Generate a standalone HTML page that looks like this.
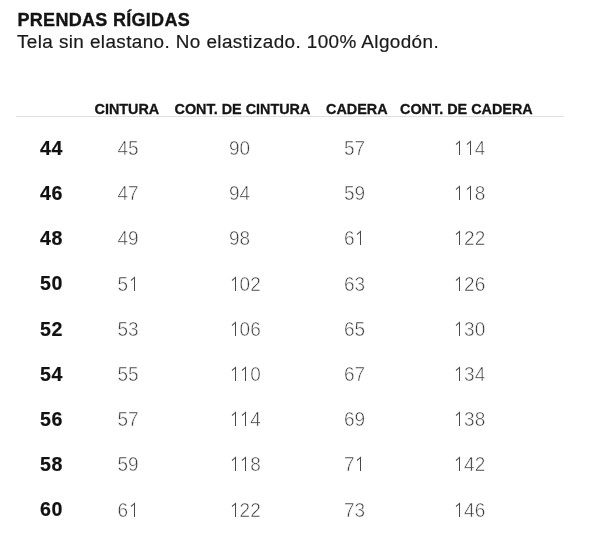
<!DOCTYPE html>
<html><head><meta charset="utf-8"><style>
html,body{margin:0;padding:0;background:#fff;width:600px;height:554px;overflow:hidden;position:relative}
body{will-change:transform;font-family:"Liberation Sans",sans-serif;color:#1a1a1a}
.t{position:absolute;white-space:nowrap;line-height:1}
.h1{left:17.5px;top:10.6px;font-size:18px;letter-spacing:0.3px;font-weight:bold;color:#141414;-webkit-text-stroke:0.35px #141414}
.sub{left:17px;top:32.7px;font-size:18.9px;letter-spacing:0.4px;color:#1a1a1a;-webkit-text-stroke:0.2px #1a1a1a}
.hd{position:absolute;white-space:nowrap;line-height:1;font-size:14.4px;font-weight:bold;top:102px;color:#151515;-webkit-text-stroke:0.3px #151515}
.line{position:absolute;left:16px;top:116px;width:548px;height:1px;background:#dfdfdf}
.c{position:absolute;line-height:1;white-space:nowrap}
.sz{font-size:19.6px;letter-spacing:0.6px;font-weight:bold;color:#111;-webkit-text-stroke:0.2px #111}
.one{position:relative;color:transparent;-webkit-text-stroke:0 transparent}
.one::before{content:"";position:absolute;left:5.7px;bottom:4.03px;width:1px;height:12.6px;background:#484848}
.one::after{content:"";position:absolute;left:1.6px;bottom:15.63px;width:4.7px;height:1px;background:#505050;transform:rotate(-38deg);transform-origin:100% 50%}
.v{font-size:19px;color:#3a3a3a;-webkit-text-stroke:0.5px #fff;transform:scaleY(1.09);transform-origin:0 85%}
</style></head><body>
<div class="t h1">PRENDAS RÍGIDAS</div>
<div class="t sub">Tela sin elastano. No elastizado. 100% Algodón.</div>
<div class="hd" style="left:94.5px">CINTURA</div>
<div class="hd" style="left:174.5px">CONT. DE CINTURA</div>
<div class="hd" style="left:326px">CADERA</div>
<div class="hd" style="left:400px">CONT. DE CADERA</div>
<div class="line"></div>

<div class="c sz" style="left:40px;top:138.8px">44</div>
<div class="c v" style="left:117.5px;top:139.0px">45</div>
<div class="c v" style="left:229px;top:139.0px">90</div>
<div class="c v" style="left:344px;top:139.0px">57</div>
<div class="c v" style="left:453.5px;top:139.0px"><span class="one">1</span><span class="one">1</span>4</div>
<div class="c sz" style="left:40px;top:184.0px">46</div>
<div class="c v" style="left:117.5px;top:184.2px">47</div>
<div class="c v" style="left:229px;top:184.2px">94</div>
<div class="c v" style="left:344px;top:184.2px">59</div>
<div class="c v" style="left:453.5px;top:184.2px"><span class="one">1</span><span class="one">1</span>8</div>
<div class="c sz" style="left:40px;top:229.2px">48</div>
<div class="c v" style="left:117.5px;top:229.4px">49</div>
<div class="c v" style="left:229px;top:229.4px">98</div>
<div class="c v" style="left:344px;top:229.4px">6<span class="one">1</span></div>
<div class="c v" style="left:453.5px;top:229.4px"><span class="one">1</span>22</div>
<div class="c sz" style="left:40px;top:274.4px">50</div>
<div class="c v" style="left:117.5px;top:274.6px">5<span class="one">1</span></div>
<div class="c v" style="left:229px;top:274.6px"><span class="one">1</span>02</div>
<div class="c v" style="left:344px;top:274.6px">63</div>
<div class="c v" style="left:453.5px;top:274.6px"><span class="one">1</span>26</div>
<div class="c sz" style="left:40px;top:319.6px">52</div>
<div class="c v" style="left:117.5px;top:319.8px">53</div>
<div class="c v" style="left:229px;top:319.8px"><span class="one">1</span>06</div>
<div class="c v" style="left:344px;top:319.8px">65</div>
<div class="c v" style="left:453.5px;top:319.8px"><span class="one">1</span>30</div>
<div class="c sz" style="left:40px;top:364.8px">54</div>
<div class="c v" style="left:117.5px;top:365.0px">55</div>
<div class="c v" style="left:229px;top:365.0px"><span class="one">1</span><span class="one">1</span>0</div>
<div class="c v" style="left:344px;top:365.0px">67</div>
<div class="c v" style="left:453.5px;top:365.0px"><span class="one">1</span>34</div>
<div class="c sz" style="left:40px;top:410.0px">56</div>
<div class="c v" style="left:117.5px;top:410.2px">57</div>
<div class="c v" style="left:229px;top:410.2px"><span class="one">1</span><span class="one">1</span>4</div>
<div class="c v" style="left:344px;top:410.2px">69</div>
<div class="c v" style="left:453.5px;top:410.2px"><span class="one">1</span>38</div>
<div class="c sz" style="left:40px;top:455.2px">58</div>
<div class="c v" style="left:117.5px;top:455.4px">59</div>
<div class="c v" style="left:229px;top:455.4px"><span class="one">1</span><span class="one">1</span>8</div>
<div class="c v" style="left:344px;top:455.4px">7<span class="one">1</span></div>
<div class="c v" style="left:453.5px;top:455.4px"><span class="one">1</span>42</div>
<div class="c sz" style="left:40px;top:500.4px">60</div>
<div class="c v" style="left:117.5px;top:500.6px">6<span class="one">1</span></div>
<div class="c v" style="left:229px;top:500.6px"><span class="one">1</span>22</div>
<div class="c v" style="left:344px;top:500.6px">73</div>
<div class="c v" style="left:453.5px;top:500.6px"><span class="one">1</span>46</div>
</body></html>
